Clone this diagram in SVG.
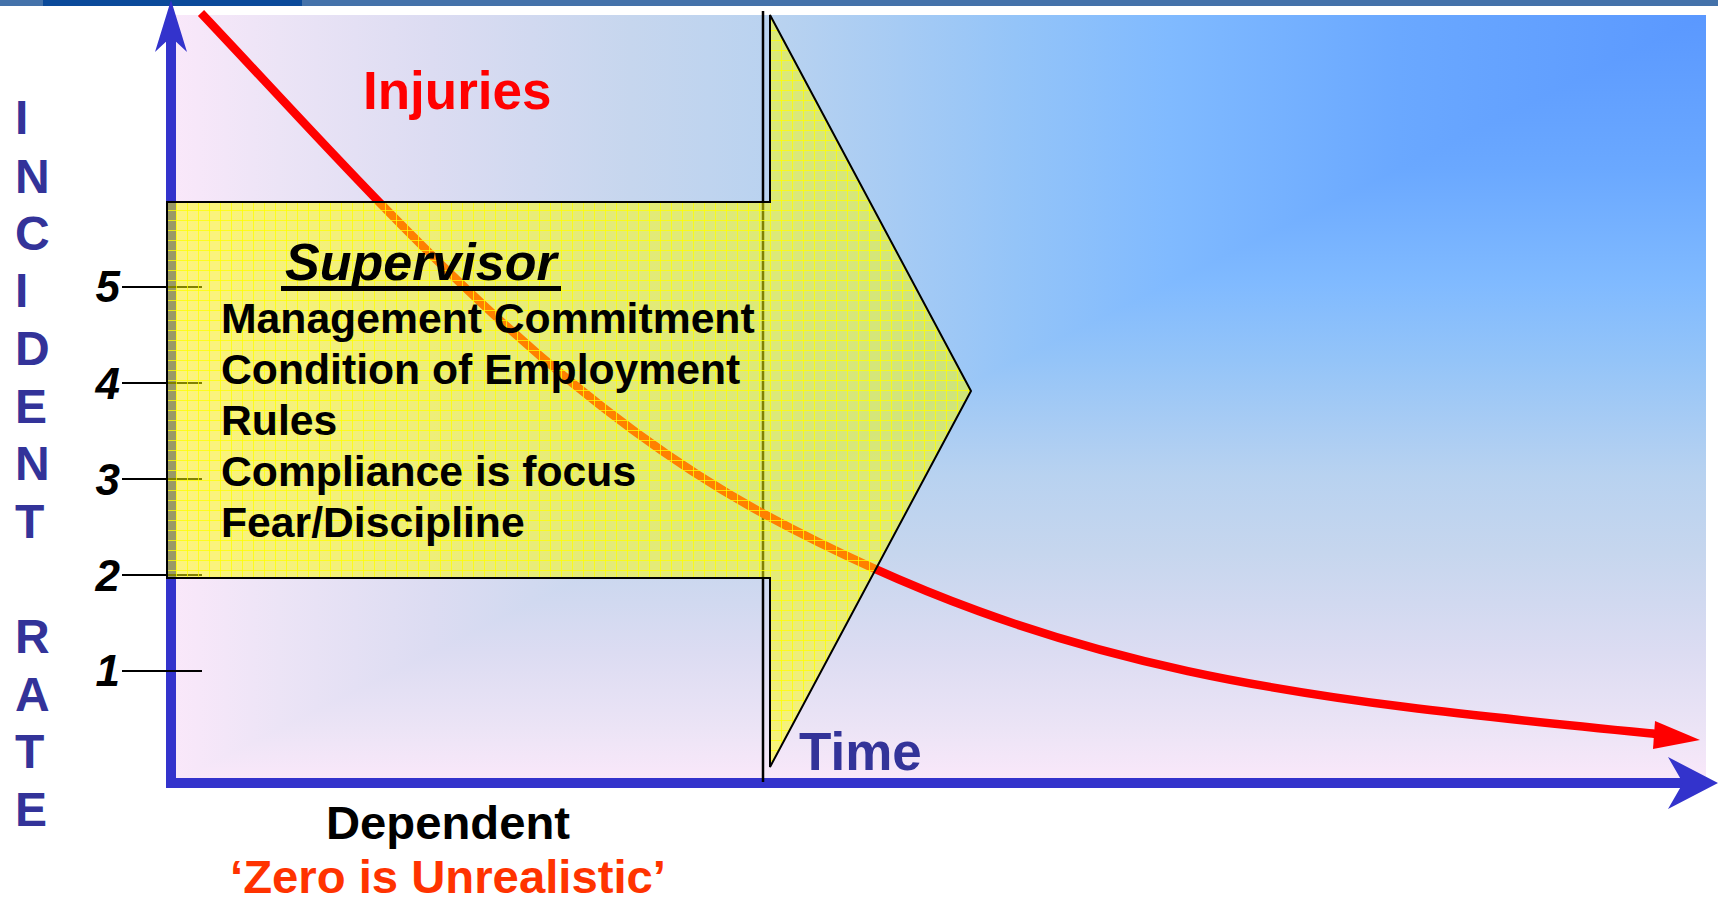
<svg xmlns="http://www.w3.org/2000/svg" width="1718" height="902" viewBox="0 0 1718 902">
<defs>
<style>
text{font-family:"Liberation Sans",Arial,sans-serif;font-weight:bold}
.axisl{fill:#333399;font-size:48px}
.tick{stroke:#000;stroke-width:2}
.tl{font-size:44px;font-style:italic;fill:#000;text-anchor:end}
.item{font-size:42.7px;fill:#000}
.axis{fill:#3333CC}
</style>
<linearGradient id="bgH" x1="1706" y1="0" x2="171" y2="0" gradientUnits="userSpaceOnUse">
<stop offset="0" stop-color="#5A98FF"/>
<stop offset="0.2" stop-color="#6AA8FF"/>
<stop offset="0.35" stop-color="#80BAFF"/>
<stop offset="0.45" stop-color="#94C4F8"/>
<stop offset="0.6" stop-color="#B8D2F0"/>
<stop offset="0.7" stop-color="#C6D6EE"/>
<stop offset="0.83" stop-color="#DCDCF2"/>
<stop offset="0.93" stop-color="#ECE4F6"/>
<stop offset="1" stop-color="#FAE8FA"/>
</linearGradient>
<linearGradient id="bgV" x1="0" y1="15" x2="0" y2="783" gradientUnits="userSpaceOnUse">
<stop offset="0" stop-color="#5A98FF"/>
<stop offset="0.2" stop-color="#6AA8FF"/>
<stop offset="0.35" stop-color="#80BAFF"/>
<stop offset="0.45" stop-color="#94C4F8"/>
<stop offset="0.6" stop-color="#B8D2F0"/>
<stop offset="0.7" stop-color="#C6D6EE"/>
<stop offset="0.83" stop-color="#DCDCF2"/>
<stop offset="0.93" stop-color="#ECE4F6"/>
<stop offset="1" stop-color="#FAE8FA"/>
</linearGradient>
<pattern id="grid" width="11" height="10" patternUnits="userSpaceOnUse">
<rect width="11" height="10" fill="#FFFF00" fill-opacity="0.5"/>
<path d="M0 0.5H11M0.5 0V10" stroke="#FFFF00" stroke-opacity="0.75" stroke-width="1" fill="none"/>
</pattern>
</defs>
<rect width="1718" height="902" fill="#FFFFFF"/>
<g id="topbar">
<rect x="0" y="0" width="1718" height="6" fill="#4472AA"/>
<rect x="43" y="0" width="259" height="6" fill="#0B4A9A"/>
</g>
<g id="background">
<rect x="171" y="15" width="1535" height="768" fill="url(#bgH)"/>
<polygon points="1706,15 1706,783 171,783" fill="url(#bgV)"/>
</g>
<g id="axes">
<rect class="axis" x="166" y="36" width="10" height="752"/>
<polygon class="axis" points="171,0 187,52 171,37 155,52"/>
<rect class="axis" x="166" y="778" width="1518" height="10"/>
<polygon class="axis" points="1718,783 1668,809 1683,783 1668,757"/>
</g>
<line id="divider" x1="763" y1="11" x2="763" y2="782" stroke="#000" stroke-width="2.5"/>
<g id="ticks">
<line class="tick" x1="122" y1="287" x2="202" y2="287"/>
<line class="tick" x1="122" y1="383" x2="202" y2="383"/>
<line class="tick" x1="122" y1="479" x2="202" y2="479"/>
<line class="tick" x1="122" y1="575" x2="202" y2="575"/>
<line class="tick" x1="122" y1="671" x2="202" y2="671"/>
</g>
<g id="injuries-curve">
<path d="M201,13 C371,193 544,395 764,514 C1064,676 1304,699 1656,734" fill="none" stroke="#FF0000" stroke-width="8.5"/>
<polygon points="1655,721 1700,740 1653,749" fill="#FF0000"/>
</g>
<g id="supervisor-arrow">
<polygon points="167,202 770,202 770,15 971,391 770,767 770,578 167,578" fill="url(#grid)" stroke="#000" stroke-width="2" stroke-linejoin="miter"/>
<text x="285" y="280" style="font-size:52px;font-style:italic" fill="#000">Supervisor</text>
<rect x="281" y="286" width="280" height="5" fill="#000"/>
<text class="item" x="221" y="333">Management Commitment</text>
<text class="item" x="221" y="384">Condition of Employment</text>
<text class="item" x="221" y="435">Rules</text>
<text class="item" x="221" y="486">Compliance is focus</text>
<text class="item" x="221" y="537">Fear/Discipline</text>
</g>
<g id="tick-labels">
<text class="tl" x="120" y="302">5</text>
<text class="tl" x="120" y="399">4</text>
<text class="tl" x="120" y="495">3</text>
<text class="tl" x="120" y="591">2</text>
<text class="tl" x="120" y="686">1</text>
</g>
<g id="y-label">
<text class="axisl" x="15" y="134">I</text>
<text class="axisl" x="15" y="193">N</text>
<text class="axisl" x="15" y="250">C</text>
<text class="axisl" x="15" y="307">I</text>
<text class="axisl" x="15" y="365">D</text>
<text class="axisl" x="15" y="423">E</text>
<text class="axisl" x="15" y="480">N</text>
<text class="axisl" x="15" y="538">T</text>
<text class="axisl" x="15" y="653">R</text>
<text class="axisl" x="15" y="711">A</text>
<text class="axisl" x="15" y="768">T</text>
<text class="axisl" x="15" y="826">E</text>
</g>
<text id="injuries-label" x="363" y="109" style="font-size:53px" fill="#FF0000">Injuries</text>
<text id="time-label" x="799" y="770" style="font-size:53px" fill="#333399">Time</text>
<g id="caption">
<text x="448" y="839" style="font-size:46px" fill="#000" text-anchor="middle" textLength="244" lengthAdjust="spacingAndGlyphs">Dependent</text>
<text x="448" y="893" style="font-size:46px" fill="#FF3300" text-anchor="middle" textLength="436" lengthAdjust="spacingAndGlyphs">‘Zero is Unrealistic’</text>
</g>
</svg>
